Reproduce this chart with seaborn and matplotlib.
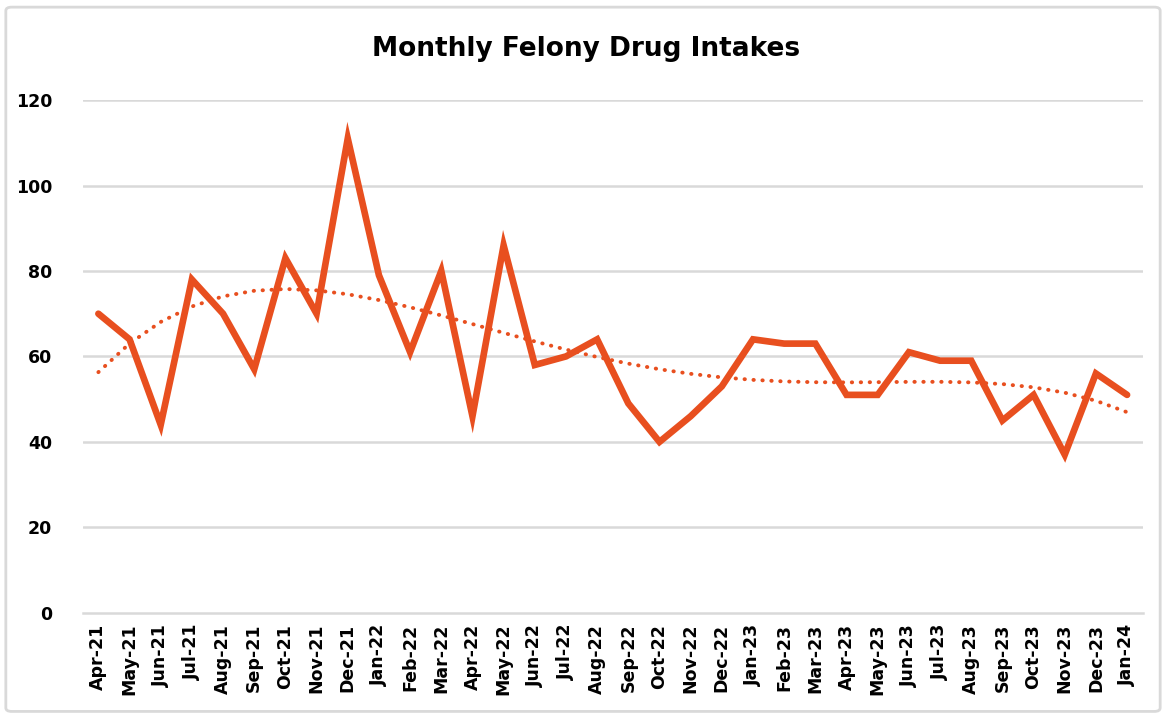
import numpy as np
import pandas as pd
import matplotlib.pyplot as plt
from matplotlib.patches import FancyBboxPatch
import seaborn as sns

# Data
months = ['Apr-21', 'May-21', 'Jun-21', 'Jul-21', 'Aug-21', 'Sep-21', 'Oct-21', 'Nov-21',
          'Dec-21', 'Jan-22', 'Feb-22', 'Mar-22', 'Apr-22', 'May-22', 'Jun-22', 'Jul-22',
          'Aug-22', 'Sep-22', 'Oct-22', 'Nov-22', 'Dec-22', 'Jan-23', 'Feb-23', 'Mar-23',
          'Apr-23', 'May-23', 'Jun-23', 'Jul-23', 'Aug-23', 'Sep-23', 'Oct-23', 'Nov-23',
          'Dec-23', 'Jan-24']
intakes = [70, 64, 44, 78, 70, 57, 83, 70,
           111, 79, 61, 80, 46, 86, 58, 60,
           64, 49, 40, 46, 53, 64, 63, 63,
           51, 51, 61, 59, 59, 45, 51, 37,
           56, 51]
yticks = [0, 20, 40, 60, 80, 100, 120]

LINE_COLOR = '#E84F1F'


def main():
    sns.set_style("white")
    plt.rcParams['font.family'] = ['DejaVu Sans']
    plt.rcParams['text.color'] = 'black'
    plt.rcParams['xtick.labelcolor'] = 'black'
    plt.rcParams['ytick.labelcolor'] = 'black'

    df = pd.DataFrame({'pos': np.arange(len(months)), 'month': months, 'intakes': intakes})
    # polynomial trendline (like the spreadsheet one)
    coef = np.polyfit(df['pos'], df['intakes'], 4)
    df['trend'] = np.polyval(coef, df['pos'])

    fig = plt.figure(figsize=(11.66, 7.15), dpi=100)
    ax = fig.add_axes([0.071, 0.143, 0.909, 0.717])

    # chart frame
    fig.patches.append(FancyBboxPatch((0.005, 0.005), 0.99, 0.985,
                                      boxstyle="round,pad=0,rounding_size=0.005",
                                      transform=fig.transFigure, fill=False,
                                      edgecolor='#D9D9D9', linewidth=2))

    for y in yticks[1:]:
        ax.axhline(y, color='#D9D9D9', lw=1.8, zorder=0)

    sns.lineplot(data=df, x='pos', y='trend', ax=ax, color=LINE_COLOR,
                 lw=2.8, linestyle=(0, (0.1, 2.2)), dash_capstyle='round', zorder=2)
    sns.lineplot(data=df, x='pos', y='intakes', ax=ax, color=LINE_COLOR,
                 lw=4.8, zorder=3, solid_joinstyle='miter')

    n = len(months)
    ax.set_xlim(-0.5, n - 0.5)
    ax.set_ylim(0, 120)
    ax.set_xticks(np.arange(n))
    ax.set_xticklabels(months, rotation=90, fontsize=12.5, fontweight='bold')
    ax.set_xticks(np.arange(n + 1) - 0.5, minor=True)
    ax.tick_params(axis='x', which='major', length=0, pad=8)
    ax.tick_params(axis='x', which='minor', length=6, width=1.8, color='#D9D9D9', direction='out')
    ax.set_yticks(yticks)
    ax.set_yticklabels([str(v) for v in yticks], fontsize=12.5, fontweight='bold')
    ax.tick_params(axis='y', length=0, pad=22)

    for side in ['top', 'right', 'left']:
        ax.spines[side].set_visible(False)
    ax.spines['bottom'].set_color('#D9D9D9')
    ax.spines['bottom'].set_linewidth(1.8)
    ax.set_xlabel('')
    ax.set_ylabel('')

    fig.text(0.503, 0.932, 'Monthly Felony Drug Intakes', ha='center', va='center',
             fontsize=19, fontweight='bold')

    plt.savefig('out.png', dpi=100)


if __name__ == "__main__":
    main()
